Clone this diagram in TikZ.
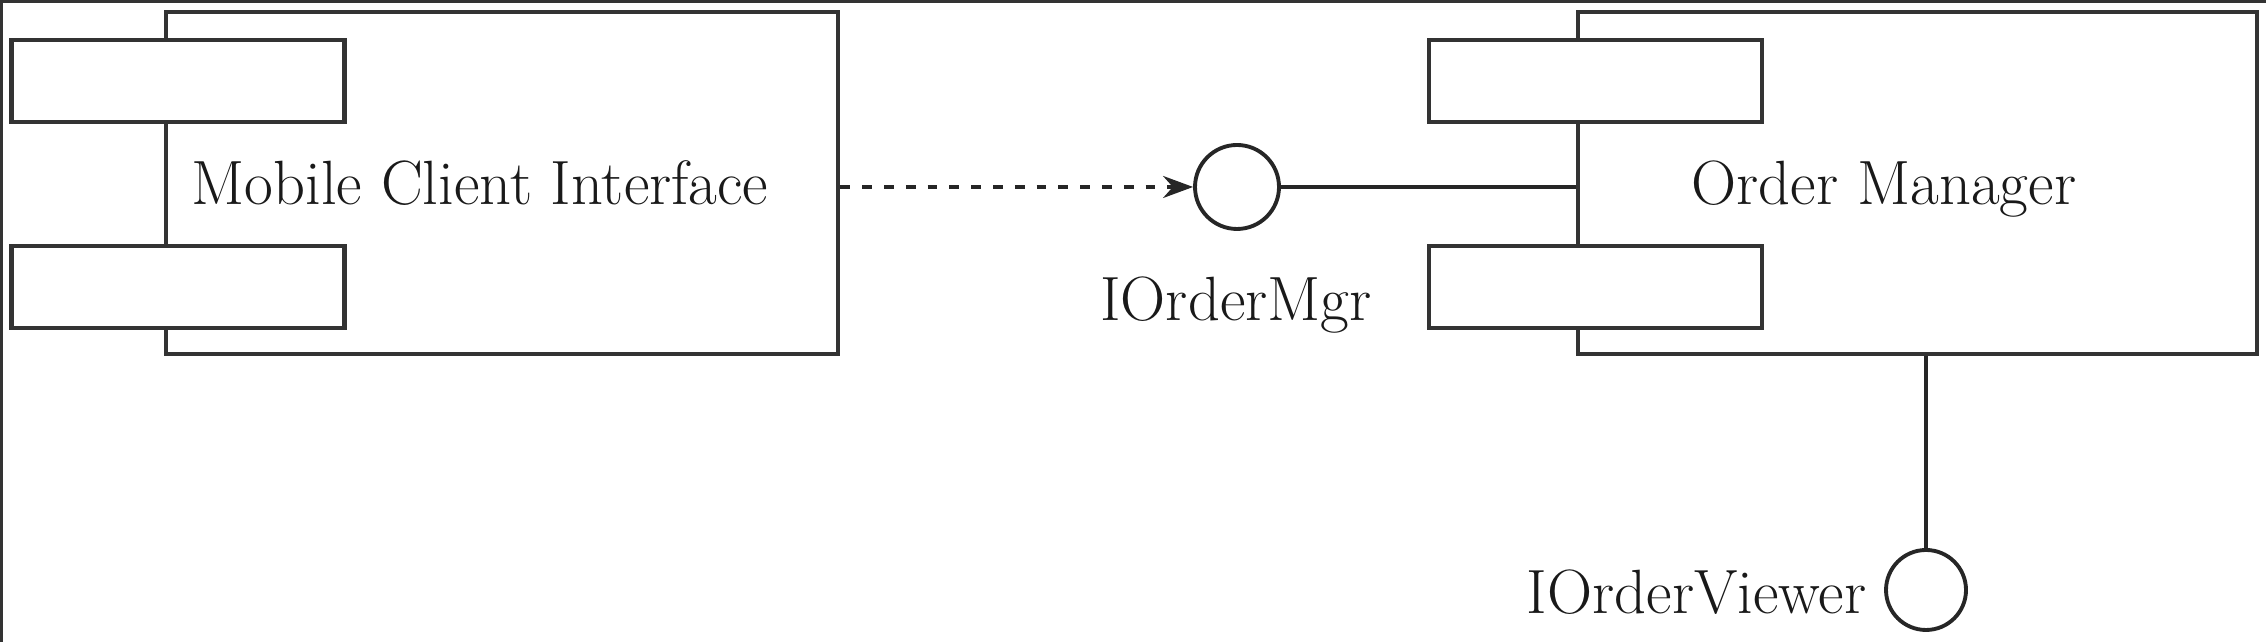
\documentclass[tikz,border=0pt]{standalone}
\usepackage{tikz}
\usetikzlibrary{arrows.meta, positioning}

\begin{document}
\begin{tikzpicture}[
    comp/.style={draw=black!80, line width=1.4pt, fill=white, inner sep=0pt, minimum height=3.42cm},
    portbox/.style={draw=black!80, line width=1.4pt, fill=white, inner sep=0pt, minimum width=3.33cm, minimum height=0.82cm},
    iface/.style={circle, draw=black!85, line width=1.1pt, fill=white, inner sep=0pt},
    lbl/.style={text=black!90, font=\fontsize{17.8}{21}\selectfont, inner sep=0pt}
]
    \useasboundingbox (0,0) rectangle (22.66,6.42);
    % Frame
    \draw[black!80, line width=0.06cm] (0,0) -- (0,6.42);
    \draw[black!80, line width=0.07cm] (0,6.42) -- (22.66,6.42);

    % Components
    \node[comp, minimum width=6.72cm] (mci) at (5.02,4.59) {};
    \node[portbox] (mciportA) at (1.78,5.61) {};
    \node[portbox] (mciportB) at (1.78,3.55) {};
    \node[lbl, anchor=base] (mciname) at (4.80,4.37) {Mobile Client Interface};

    \node[comp, minimum width=6.79cm] (om) at (19.175,4.59) {};
    \node[portbox] (omportA) at (15.955,5.61) {};
    \node[portbox] (omportB) at (15.955,3.55) {};
    \node[lbl, anchor=base] (omname) at (18.84,4.37) {Order Manager};

    % Interfaces
    \node[iface, minimum size=0.84cm] (iom) at (12.37,4.55) {};
    \node[lbl, anchor=base] (iomlbl) at (12.36,3.21) {IOrderMgr};

    \node[iface, minimum size=0.80cm] (iov) at (19.26,0.52) {};
    \node[lbl, anchor=base east] (iovlbl) at (18.67,0.28) {IOrderViewer};

    % Connectors
    \draw[black!85, line width=1pt, dash pattern=on 2.8pt off 3.4pt, -{Stealth[length=0.3cm, width=0.22cm]}]
        (mci.east |- iom.west) -- (iom.west);
    \draw[black!85, line width=1pt] (iom.east) -- (om.west |- iom.east);
    \draw[black!85, line width=1.3pt] (iov.north) -- (iov.north |- om.south);
\end{tikzpicture}
\end{document}
